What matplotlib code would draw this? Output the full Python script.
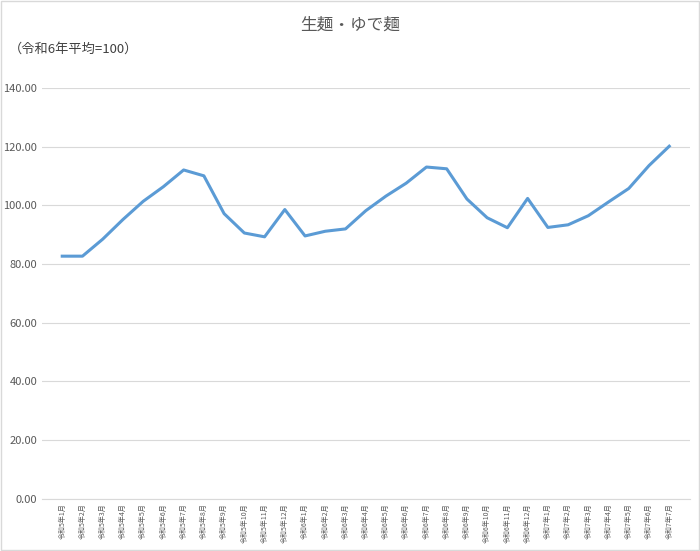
import matplotlib
matplotlib.use("Agg")
import matplotlib.pyplot as plt

plt.rcParams['font.family'] = ['Noto Sans CJK JP', 'DejaVu Sans']

labels = [f"令和5年{m}月" for m in range(1, 13)] + [f"令和6年{m}月" for m in range(1, 13)] + [f"令和7年{m}月" for m in range(1, 8)]
values = [82.7, 82.7, 88.5, 95.2, 101.4, 106.4, 112.1, 110.1, 97.2, 90.6, 89.3, 98.6,
          89.6, 91.2, 92.0, 98.2, 103.2, 107.6, 113.1, 112.5, 102.2, 95.8, 92.4, 102.4,
          92.5, 93.4, 96.5, 101.2, 105.8, 113.6, 120.2]

fig = plt.figure(figsize=(7.0, 5.51), dpi=100)
ax = fig.add_axes([0.06, 0.095, 0.925, 0.745])
x = list(range(len(values)))
ax.plot(x, values, color='#5B9BD5', linewidth=2.2)
ax.set_xlim(-1, len(values))
ax.set_ylim(0, 140)
ax.set_yticks(range(0, 141, 20))
ax.set_yticklabels([f"{v:.2f}" for v in range(0, 141, 20)], fontsize=8, color='#595959')
ax.set_xticks(x)
ax.set_xticklabels(labels, rotation=90, fontsize=5, color='#595959')
ax.grid(axis='y', color='#D9D9D9', linewidth=0.8)
ax.set_axisbelow(True)
for s in ['top', 'right', 'left']:
    ax.spines[s].set_visible(False)
ax.spines['bottom'].set_color('#D9D9D9')
ax.tick_params(length=0)
fig.text(0.5, 0.955, "生麺・ゆで麺", ha='center', va='center', fontsize=12, color='#595959')
fig.text(0.012, 0.91, "（令和6年平均=100）", ha='left', va='center', fontsize=9.5, color='#404040')
fig.patches.append(plt.Rectangle((0.001, 0.001), 0.997, 0.997, transform=fig.transFigure,
                                 fill=False, edgecolor='#D9D9D9', linewidth=1))
fig.savefig("out.png", dpi=100)
